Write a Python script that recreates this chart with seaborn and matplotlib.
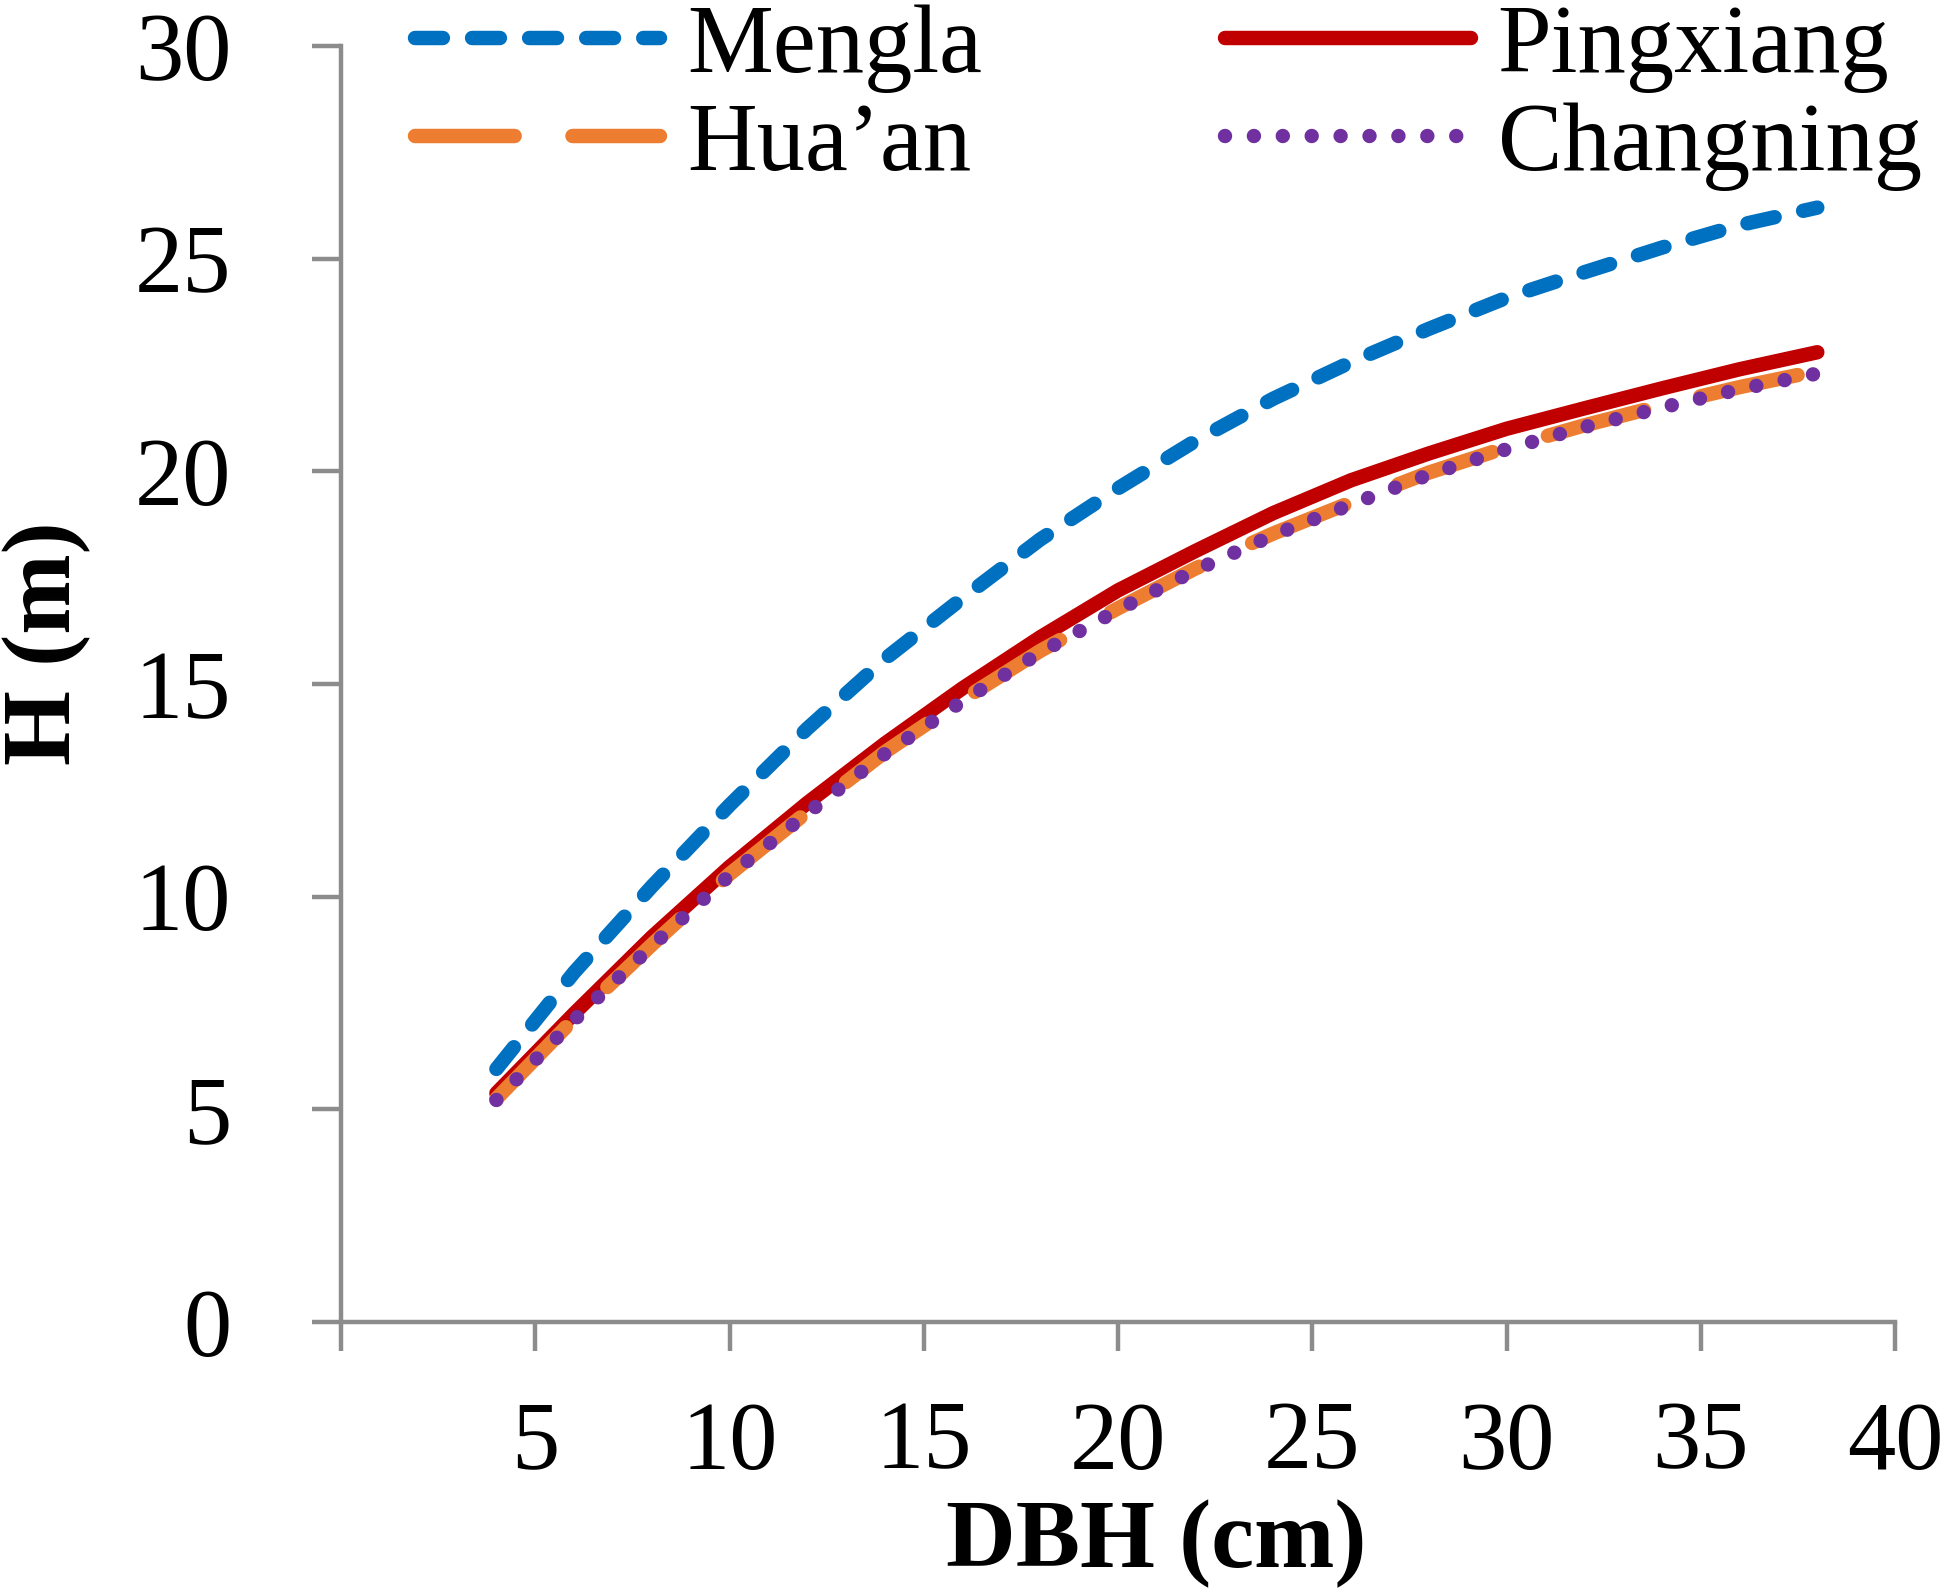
import matplotlib
matplotlib.use("Agg")
import matplotlib.pyplot as plt
import seaborn as sns

# ---- data ----
dbh = [4, 6, 8, 10, 12, 14, 16, 18, 20, 22, 24, 26, 28, 30, 32, 34, 36, 38]
mengla = [5.95, 8.22, 10.24, 12.15, 13.95, 15.59, 17.02, 18.40, 19.60, 20.72,
          21.71, 22.57, 23.35, 24.08, 24.68, 25.26, 25.79, 26.20]
pingxiang = [5.38, 7.25, 9.05, 10.70, 12.20, 13.60, 14.90, 16.10, 17.20, 18.13,
             19.02, 19.79, 20.42, 21.00, 21.48, 21.95, 22.40, 22.80]
huaan = [5.25, 7.13, 8.87, 10.53, 11.99, 13.40, 14.63, 15.78, 16.78, 17.72,
         18.54, 19.27, 19.97, 20.56, 21.08, 21.55, 21.98, 22.36]
changning = [5.22, 7.10, 8.84, 10.50, 11.96, 13.36, 14.60, 15.74, 16.74, 17.68,
             18.50, 19.22, 19.92, 20.52, 21.04, 21.50, 21.93, 22.30]
series_names = ["Mengla", "Pingxiang", "Hua\u2019an", "Changning"]
x_ticks = [0, 5, 10, 15, 20, 25, 30, 35, 40]
x_ticklabels = ["", "5", "10", "15", "20", "25", "30", "35", "40"]
y_ticks = [0, 5, 10, 15, 20, 25, 30]

sns.set_theme(style="white")
plt.rcParams["font.family"] = ["Liberation Serif", "DejaVu Serif"]
plt.rcParams["text.color"] = "black"
plt.rcParams["axes.labelcolor"] = "black"

W, H = 1945, 1592
fig = plt.figure(figsize=(W / 100, H / 100), dpi=100)
ax = fig.add_axes([341 / W, 1 - 1322 / H, 1554 / W, 1276 / H])

lw = 10.4
styles = [
    (mengla, "#0070C0", (0, (1.93, 2.02))),
    (pingxiang, "#C00000", "-"),
    (huaan, "#ED7D31", (0, (6.9, 4.0))),
    (changning, "#7030A0", (0, (0.001, 2.0))),
]
for (vals, col, ls), name in zip(styles, series_names):
    sns.lineplot(x=dbh, y=vals, ax=ax, color=col, lw=lw, linestyle=ls,
                 dash_capstyle="round", solid_capstyle="round",
                 label=name, legend=False)

ax.set_xlim(0, 40)
ax.set_ylim(0, 30)
ax.set_xticks(x_ticks)
ax.set_xticklabels(x_ticklabels)
ax.set_yticks(y_ticks)
ax.set_yticklabels([str(v) for v in y_ticks])

gray = "#8c8c8c"
for s in ["top", "right"]:
    ax.spines[s].set_visible(False)
for s in ["left", "bottom"]:
    ax.spines[s].set_color(gray)
    ax.spines[s].set_linewidth(3.2)
fs = 69.5
ax.tick_params(axis="both", direction="out", length=21, width=3.2,
               color=gray, labelsize=fs, labelcolor="black",
               bottom=True, left=True, top=False, right=False)
ax.tick_params(axis="y", pad=58)
ax.tick_params(axis="x", pad=36)
ax.grid(False)

ax.set_xlabel("DBH (cm)", fontsize=fs, fontweight="bold", color="black")
ax.set_ylabel("H (m)", fontsize=fs, fontweight="bold", color="black")
ax.xaxis.set_label_coords(0.5245, -(1567 - 1322) / 1276)
ax.xaxis.label.set_verticalalignment("baseline")
ax.yaxis.set_label_coords((70 - 341) / 1554, 0.532)
ax.yaxis.label.set_verticalalignment("baseline")

lines = ax.get_lines()
order = [0, 2, 1, 3]
handles = [lines[i] for i in order]
labels = [series_names[i] for i in order]
leg = fig.legend(handles, labels, loc="upper left",
                 bbox_to_anchor=(415 / W, 1 - 4 / H), ncol=2, frameon=False,
                 borderpad=0, borderaxespad=0, handlelength=2.54,
                 handletextpad=0.28, columnspacing=2.52, labelspacing=0.1,
                 fontsize=fs)
for t in leg.get_texts():
    t.set_color("black")

fig.savefig("out.png", dpi=100)
